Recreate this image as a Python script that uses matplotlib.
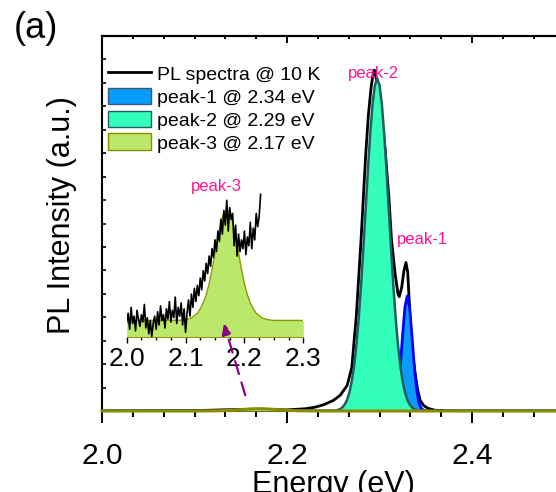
import matplotlib
matplotlib.use("Agg")
import matplotlib.pyplot as plt
from matplotlib.lines import Line2D
from matplotlib.patches import Patch
from matplotlib.ticker import MultipleLocator

plt.rcParams['font.family'] = ['Liberation Sans', 'DejaVu Sans']

# ---- main panel data (energy in eV, intensity in a.u.) ----
pl_energy = [2.000, 2.100, 2.130, 2.170, 2.200, 2.220, 2.230, 2.240, 2.250, 2.2575,
             2.265, 2.270, 2.275, 2.280, 2.285, 2.288, 2.291, 2.2935, 2.2945, 2.296,
             2.299, 2.302, 2.306, 2.310, 2.313, 2.3168, 2.320, 2.3214, 2.324, 2.3265,
             2.3286, 2.3305, 2.332, 2.3335, 2.335, 2.3385, 2.341, 2.344, 2.348, 2.3525,
             2.360, 2.380, 2.500]
pl_int = [0.000, 0.001, 0.003, 0.005, 0.003, 0.006, 0.010, 0.017, 0.028, 0.042,
          0.068, 0.115, 0.255, 0.455, 0.680, 0.790, 0.865, 0.905, 0.909, 0.895,
          0.845, 0.790, 0.700, 0.575, 0.456, 0.367, 0.312, 0.305, 0.330, 0.375,
          0.396, 0.370, 0.300, 0.220, 0.170, 0.100, 0.060, 0.028, 0.014, 0.007,
          0.002, 0.000, 0.000]

p2_energy = [2.000, 2.2475, 2.2525, 2.2575, 2.260, 2.2625, 2.265, 2.2675, 2.270, 2.2725,
             2.275, 2.2775, 2.280, 2.2825, 2.285, 2.2875, 2.290, 2.2925, 2.295, 2.2975,
             2.300, 2.3025, 2.305, 2.3075, 2.310, 2.3125, 2.315, 2.3175, 2.320, 2.3225,
             2.325, 2.3275, 2.330, 2.3325, 2.335, 2.3375, 2.3425, 2.3475, 2.500]
p2_int = [0.000, 0.000, 0.001, 0.005, 0.010, 0.018, 0.030, 0.050, 0.079, 0.120,
          0.176, 0.247, 0.333, 0.432, 0.538, 0.644, 0.741, 0.819, 0.869, 0.887,
          0.869, 0.819, 0.741, 0.644, 0.538, 0.432, 0.333, 0.247, 0.176, 0.120,
          0.079, 0.050, 0.030, 0.018, 0.010, 0.005, 0.001, 0.000, 0.000]

p1_energy = [2.000, 2.310, 2.3125, 2.315, 2.3175, 2.320, 2.3225, 2.325, 2.3275, 2.330,
             2.3325, 2.335, 2.3375, 2.340, 2.3425, 2.345, 2.3475, 2.350, 2.500]
p1_int = [0.000, 0.000, 0.002, 0.0075, 0.023, 0.059, 0.121, 0.203, 0.277, 0.307,
          0.277, 0.203, 0.121, 0.059, 0.023, 0.0075, 0.002, 0.000, 0.000]

p3_energy = [2.000, 2.100, 2.120, 2.130, 2.140, 2.150, 2.160, 2.170, 2.180, 2.190,
             2.200, 2.210, 2.220, 2.240, 2.500]
p3_int = [0.000, 0.0001, 0.0005, 0.001, 0.002, 0.0037, 0.0053, 0.006, 0.0053, 0.0037,
          0.002, 0.001, 0.0005, 0.0001, 0.000]

# ---- inset data (zoom on peak-3) ----
ins_energy = [2.0000 + 0.0025 * i for i in range(92)]
ins_pl = [0.10, 0.16, 0.05, 0.20, 0.09, 0.14, 0.04, 0.18, 0.12, 0.07,
          0.15, 0.10, 0.22, 0.06, 0.13, 0.02, 0.11, 0.00, 0.09, 0.14,
          0.05, 0.17, 0.08, 0.21, 0.11, 0.15, 0.06, 0.19, 0.12, 0.24,
          0.10, 0.18, 0.13, 0.27, 0.09, 0.20, 0.14, 0.23, 0.08, 0.19,
          0.03, 0.16, 0.25, 0.14, 0.29, 0.20, 0.33, 0.24, 0.35, 0.28,
          0.40, 0.32, 0.45, 0.38, 0.50, 0.43, 0.55, 0.48, 0.60, 0.54,
          0.66, 0.58, 0.72, 0.65, 0.80, 0.70, 0.86, 0.76, 0.93, 0.72,
          0.88, 0.80, 0.84, 0.62, 0.76, 0.55, 0.70, 0.58, 0.66, 0.60,
          0.72, 0.56, 0.68, 0.62, 0.78, 0.60, 0.74, 0.66, 0.84, 0.75,
          0.82, 0.97]
ins_fit_energy = [2.000, 2.090, 2.100, 2.110, 2.120, 2.125, 2.130, 2.135, 2.140, 2.145,
                  2.150, 2.155, 2.160, 2.165, 2.170, 2.175, 2.180, 2.185, 2.190, 2.195,
                  2.200, 2.205, 2.210, 2.215, 2.220, 2.230, 2.240, 2.250, 2.300]
ins_fit = [0.111, 0.112, 0.116, 0.127, 0.160, 0.190, 0.230, 0.285, 0.360, 0.458,
           0.571, 0.683, 0.780, 0.846, 0.869, 0.846, 0.780, 0.683, 0.571, 0.458,
           0.360, 0.285, 0.230, 0.190, 0.160, 0.127, 0.116, 0.111, 0.111]

legend_labels = ['PL spectra @ 10 K', 'peak-1 @ 2.34 eV', 'peak-2 @ 2.29 eV', 'peak-3 @ 2.17 eV']

c_blue, c_green, c_yel = '#0a9bff', '#33ffbb', '#bbe86b'

fig = plt.figure(figsize=(5.56, 4.92), dpi=100)
ax = fig.add_axes([102 / 556, 1 - 411 / 492, 462.5 / 556, 375 / 492])

ax.plot(pl_energy, pl_int, color='black', lw=2.0, zorder=2)
ax.fill_between(p1_energy, p1_int, 0, color=c_blue, lw=0, zorder=3)
ax.plot(p1_energy, p1_int, color='#0000ff', lw=2.0, zorder=3)
ax.fill_between(p2_energy, p2_int, 0, color=c_green, lw=0, zorder=4)
ax.plot(p2_energy, p2_int, color='#1f5f5f', lw=1.8, zorder=4)
ax.fill_between(p3_energy, p3_int, 0, color=c_yel, lw=0, zorder=5)
ax.plot(p3_energy, p3_int, color='#8c8c00', lw=2.2, zorder=5, clip_on=False)

ax.set_xlim(2.0, 2.5)
ax.set_ylim(0, 1)
ax.xaxis.set_major_locator(MultipleLocator(0.2))
ax.xaxis.set_minor_locator(MultipleLocator(0.2 / 6))
ax.yaxis.set_major_locator(MultipleLocator(1 / 16))
ax.set_yticklabels([])
ax.tick_params(axis='x', which='major', direction='out', length=8.5, width=1.4,
               labelsize=21.5, pad=14, top=False)
ax.tick_params(axis='x', which='minor', direction='out', length=4.3, width=1.4, top=False)
ax.tick_params(axis='y', which='major', direction='in', length=3, width=1.2, labelleft=False)
ax.xaxis.set_major_formatter(matplotlib.ticker.FormatStrFormatter('%.1f'))
for s in ax.spines.values():
    s.set_linewidth(1.5)

# top ticks pointing inward
sec = ax.secondary_xaxis('top')
sec.xaxis.set_major_locator(MultipleLocator(0.2))
sec.xaxis.set_minor_locator(MultipleLocator(0.2 / 6))
sec.tick_params(which='major', direction='in', length=5, width=1.4, labeltop=False)
sec.tick_params(which='minor', direction='in', length=2.5, width=1.4)
sec.spines['top'].set_linewidth(1.5)

ax.set_xlabel('Energy (eV)', fontsize=22, labelpad=0)
fig.text(62 / 556, 1 - 215 / 492, 'PL Intensity (a.u.)', rotation=90, fontsize=22,
         ha='center', va='center')
fig.text(14 / 556, 1 - 11 / 492, '(a)', fontsize=26, ha='left', va='top')

pink = '#ff1493'
ax.text(2.2655, 0.888, 'peak-2', color=pink, fontsize=12, ha='left', va='baseline')
ax.text(2.3189, 0.445, 'peak-1', color=pink, fontsize=12, ha='left', va='baseline')

handles = [Line2D([], [], color='black', lw=2),
           Patch(facecolor=c_blue, edgecolor='#3a5a78', lw=1),
           Patch(facecolor=c_green, edgecolor='#1f5f5f', lw=1),
           Patch(facecolor=c_yel, edgecolor='#8c8c00', lw=1)]
ax.legend(handles, legend_labels, loc='upper left', bbox_to_anchor=(-0.017, 0.96),
          frameon=False, fontsize=14, handlelength=2.2, handleheight=0.95,
          handletextpad=0.35, labelspacing=0.2, borderaxespad=0.3)

# ---- inset ----
ins = fig.add_axes([126.7 / 556, 1 - 336.7 / 492, 176.6 / 556, 146.7 / 492])
ins.patch.set_alpha(0)
ins.fill_between(ins_fit_energy, ins_fit, 0, color=c_yel, lw=0)
ins.plot(ins_fit_energy, ins_fit, color='#8c9a00', lw=1.0)
ins.plot(ins_energy, ins_pl, color='black', lw=1.2)
ins.set_xlim(2.0, 2.3)
ins.set_ylim(0, 1)
ins.set_yticks([])
ins.xaxis.set_major_locator(MultipleLocator(0.1))
ins.xaxis.set_minor_locator(MultipleLocator(0.025))
ins.xaxis.set_major_formatter(matplotlib.ticker.FormatStrFormatter('%.1f'))
ins.tick_params(axis='x', which='major', direction='out', length=4.5, width=1.0,
                labelsize=19, pad=3)
ins.tick_params(axis='x', which='minor', direction='out', length=2.5, width=1.0)
for side in ['left', 'right', 'top']:
    ins.spines[side].set_visible(False)
ins.spines['bottom'].set_color('#8c9a00')
ins.text(2.153, 0.993, 'peak-3', color=pink, fontsize=12, ha='center', va='baseline')

# dashed purple arrow from main baseline to the inset peak
ins.annotate('', xy=(2.131, 0.24), xycoords=ax.transData,
             xytext=(2.1557, 0.035), textcoords=ax.transData,
             arrowprops=dict(arrowstyle='-|>', color='#8b008b', lw=1.6,
                             linestyle=(0, (6, 4)), mutation_scale=16),
             annotation_clip=False)

fig.savefig('out.png', dpi=100)
